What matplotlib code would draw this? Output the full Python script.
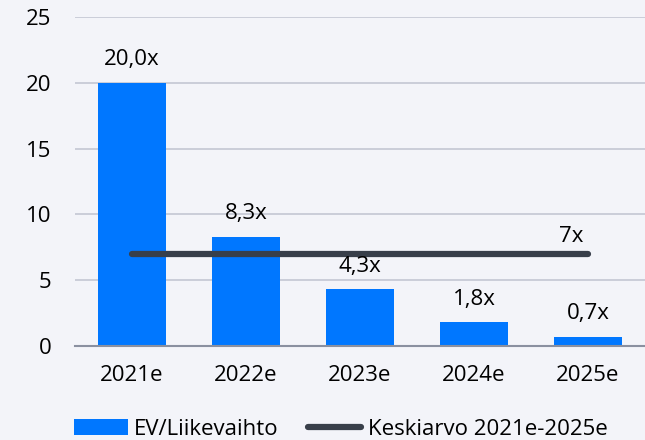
import matplotlib.pyplot as plt
import numpy as np

years = ['2021e', '2022e', '2023e', '2024e', '2025e']
ev_sales = [20.0, 8.3, 4.3, 1.8, 0.7]
avg_value = 7
avg_label = '7x'

plt.rcParams['font.family'] = ['Open Sans', 'DejaVu Sans']
fs = 16

bg = '#f3f4f9'
fig = plt.figure(figsize=(6.45, 4.4), dpi=100, facecolor=bg)
ax = fig.add_axes([75 / 645, 94 / 440, 570 / 645, 329 / 440], facecolor=bg)

x = np.arange(len(years))
bars = ax.bar(x, ev_sales, width=0.59, color='#0077ff', zorder=2, label='EV/Liikevaihto')
line, = ax.plot([x[0], x[-1]], [avg_value, avg_value], color='#383f4a', lw=4.5,
                solid_capstyle='round', zorder=3, label='Keskiarvo 2021e-2025e')

for xi, v in zip(x, ev_sales):
    ax.annotate(f'{v:.1f}x'.replace('.', ','), (xi, v), xytext=(0, 9),
                textcoords='offset points', ha='center', va='bottom', fontsize=fs)
ax.annotate(avg_label, (x[-1] - 0.15, avg_value), xytext=(0, 5),
            textcoords='offset points', ha='center', va='bottom', fontsize=fs)

ax.set_xlim(-0.5, len(years) - 0.5)
ax.set_ylim(0, 25)
ax.set_yticks([0, 5, 10, 15, 20, 25])
ax.set_xticks(x)
ax.set_xticklabels(years)
ax.tick_params(axis='both', length=0, labelsize=fs)
ax.tick_params(axis='y', pad=17)
ax.tick_params(axis='x', pad=14)
ax.grid(axis='y', color='#c3c7d3', lw=1.2, zorder=0)
for s in ['top', 'right', 'left']:
    ax.spines[s].set_visible(False)
ax.spines['bottom'].set_color('#8a90a0')
ax.spines['bottom'].set_linewidth(1.5)

fig.legend([bars, line], ['EV/Liikevaihto', 'Keskiarvo 2021e-2025e'],
           loc='lower left', bbox_to_anchor=(0.084, -0.045), ncol=2, frameon=False,
           fontsize=fs, handlelength=2.4, handletextpad=0.3, columnspacing=1.3)

fig.savefig('out.png', dpi=100, facecolor=bg)
